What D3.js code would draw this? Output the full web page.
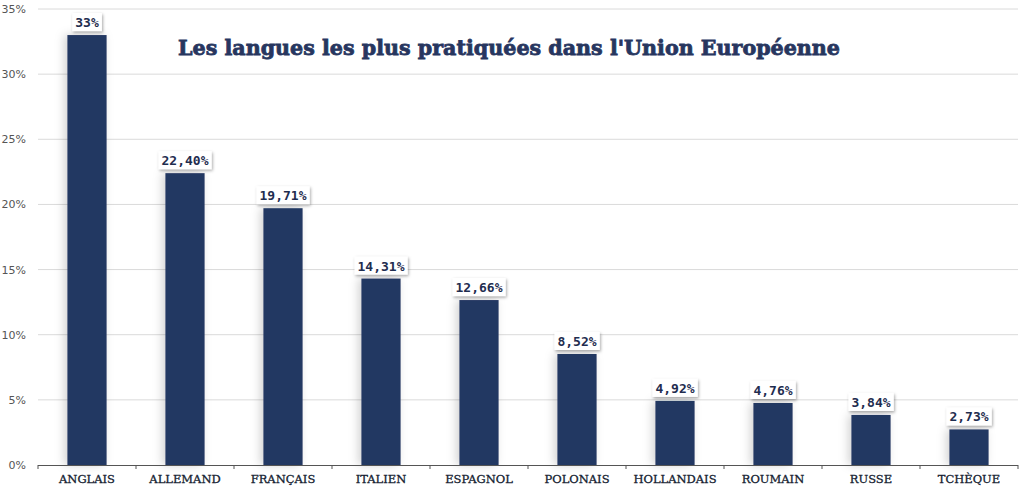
<!DOCTYPE html>
<html><head><meta charset="utf-8">
<script src="https://cdn.jsdelivr.net/npm/d3@7"></script>
<style>body{margin:0;background:#fff}svg{display:block}</style>
</head><body>
<script>
const categories = ["ANGLAIS","ALLEMAND","FRANÇAIS","ITALIEN","ESPAGNOL","POLONAIS","HOLLANDAIS","ROUMAIN","RUSSE","TCHÈQUE"];
const values = [33, 22.40, 19.71, 14.31, 12.66, 8.52, 4.92, 4.76, 3.84, 2.73];
const valueLabels = ["33%","22,40%","19,71%","14,31%","12,66%","8,52%","4,92%","4,76%","3,84%","2,73%"];
const yTicks = [0,5,10,15,20,25,30,35];
const title = "Les langues les plus pratiquées dans l'Union Européenne";

const W = 1024, H = 491;
const m = {left:38, right:6, top:9, bottom:26};
const svg = d3.select("body").append("svg").attr("width",W).attr("height",H);
const defs = svg.append("defs");
const f = defs.append("filter").attr("id","sh").attr("x","-50%").attr("y","-20%").attr("width","200%").attr("height","140%");
f.append("feDropShadow").attr("dx",-3).attr("dy",0).attr("stdDeviation",5).attr("flood-color","#000").attr("flood-opacity",0.18);
const f2 = defs.append("filter").attr("id","sh2").attr("x","-30%").attr("y","-30%").attr("width","160%").attr("height","160%");
f2.append("feDropShadow").attr("dx",1).attr("dy",1.5).attr("stdDeviation",1.5).attr("flood-color","#000").attr("flood-opacity",0.35);

const x = d3.scaleBand().domain(categories).range([m.left, W-m.right]).paddingInner(0.6).paddingOuter(0.3);
const xb = d3.scaleBand().domain(categories).range([m.left, W-m.right]);
const y = d3.scaleLinear().domain([0,35]).range([H-m.bottom, m.top]);

// gridlines
svg.append("g").selectAll("line").data(yTicks.filter(d=>d>0)).join("line")
  .attr("x1",m.left).attr("x2",W-m.right)
  .attr("y1",d=>y(d)).attr("y2",d=>y(d))
  .attr("stroke","#dadada").attr("stroke-width",1);

// y labels
svg.append("g").selectAll("text").data(yTicks).join("text")
  .attr("x",26).attr("y",d=>y(d)+4).attr("text-anchor","end")
  .attr("font-family","DejaVu Sans").attr("font-size",11).attr("fill","#555")
  .text(d=>d+"%");

// bars
svg.append("g").selectAll("rect").data(values).join("rect")
  .attr("x",(d,i)=>x(categories[i])).attr("width",x.bandwidth())
  .attr("y",d=>y(d)).attr("height",d=>y(0)-y(d))
  .attr("fill","#243862").attr("filter","url(#sh)");

// axis
const axis = svg.append("g");
axis.append("line").attr("x1",m.left).attr("x2",W-m.right).attr("y1",y(0)+0.5).attr("y2",y(0)+0.5).attr("stroke","#555").attr("stroke-width",1.2);
const bounds = categories.map(c=>xb(c)).concat([W-m.right]);
axis.selectAll("line.t").data(bounds).join("line").attr("class","t")
  .attr("x1",d=>d).attr("x2",d=>d).attr("y1",y(0)).attr("y2",y(0)+4).attr("stroke","#555");
axis.selectAll("text").data(categories).join("text")
  .attr("x",d=>xb(d)+xb.bandwidth()/2).attr("y",y(0)+18).attr("text-anchor","middle")
  .attr("font-family","DejaVu Serif").attr("font-size",11.5).attr("fill","#141c30")
  .attr("stroke","#141c30").attr("stroke-width",0.3)
  .text(d=>d);

// value labels
const lab = svg.append("g").selectAll("g").data(values).join("g")
  .attr("transform",(d,i)=>`translate(${x(categories[i])+x.bandwidth()/2},${y(d)-4})`);
lab.each(function(d,i){
  const g = d3.select(this);
  const r = g.append("rect").attr("fill","#fff").attr("filter","url(#sh2)");
  const t = g.append("text").attr("text-anchor","middle").attr("y",-4)
    .attr("font-family","DejaVu Sans Mono").attr("font-weight","bold").attr("font-size",13).attr("fill","#1f2d4f")
    .text(valueLabels[i]);
  const bb = t.node().getBBox();
  r.attr("x",bb.x-3).attr("y",-18).attr("width",bb.width+6).attr("height",18);
});

// title
svg.append("text").attr("x",178).attr("y",55)
  .attr("font-family","DejaVu Serif").attr("font-weight","bold").attr("font-size",21).attr("fill","#27365f")
  .attr("stroke","#27365f").attr("stroke-width",0.8)
  .attr("textLength",662).attr("lengthAdjust","spacingAndGlyphs")
  .text(title);
</script>
</body></html>
